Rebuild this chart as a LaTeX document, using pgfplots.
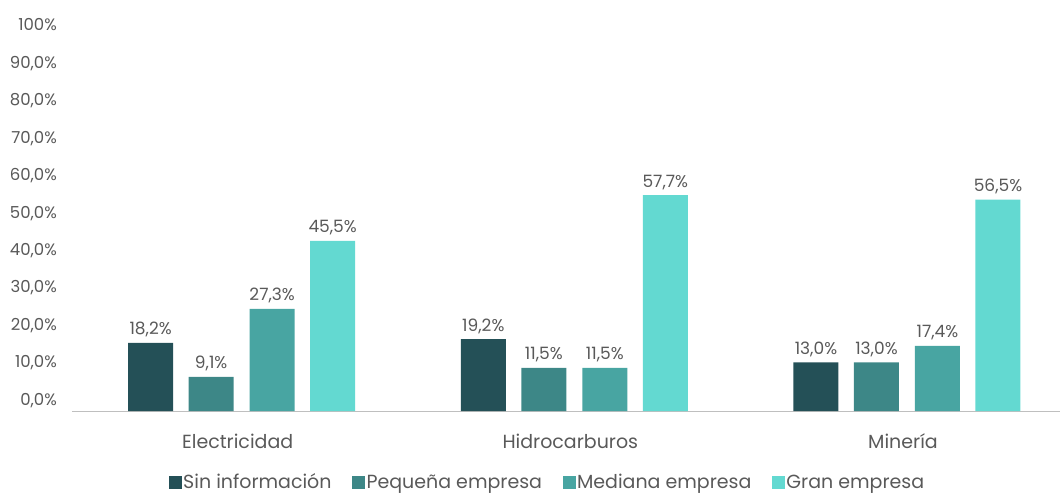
\documentclass[border=0pt]{standalone}
\usepackage{pgfplots}
\pgfplotsset{compat=1.18}
\usepackage{fontspec}
\setmainfont{Poppins}
\definecolor{c1}{HTML}{245057}
\definecolor{c2}{HTML}{3D8787}
\definecolor{c3}{HTML}{48A5A2}
\definecolor{c4}{HTML}{63D9D1}
\definecolor{txt}{HTML}{595959}
\definecolor{axl}{HTML}{BFBFBF}
\begin{document}
\begin{tikzpicture}
\path[use as bounding box] (0pt,0pt) rectangle (1060pt,496pt);
\begin{axis}[
  at={(72pt,85pt)}, anchor=south west,
  scale only axis, width=988pt, height=374pt,
  xmin=-0.51, xmax=2.46, ymin=0, ymax=100,
  axis x line=bottom, axis y line=left,
  x axis line style={draw=axl, line width=1pt, -},
  y axis line style={draw=none},
  major tick length=0pt,
  xtick={0,1,2},
  xticklabels={Electricidad,Hidrocarburos,Minería},
  ytick={0,10,...,100},
  yticklabels={{0,0\%},{10,0\%},{20,0\%},{30,0\%},{40,0\%},{50,0\%},{60,0\%},{70,0\%},{80,0\%},{90,0\%},{100\%}},
  ticklabel style={text=txt, inner sep=0pt},
  yticklabel style={font=\fontsize{16.5}{19}\selectfont, anchor=base east, yshift=6pt, xshift=-15pt},
  xticklabel style={font=\fontsize{19}{22}\selectfont, anchor=base, yshift=-37pt, xshift=-4pt},
  ybar, bar width=45pt,
  nodes near coords={\pgfmathprintnumber[fixed,fixed zerofill,precision=1,use comma,assume math mode=true]{\pgfplotspointmeta}\%},
  every node near coord/.append style={font=\fontsize{17}{20}\selectfont, text=txt, anchor=base, inner sep=0pt, yshift=8pt},
  legend columns=4,
  legend style={at={(0.481,-0.190)}, anchor=center, draw=none, fill=none,
    font=\fontsize{19}{22}\selectfont, text=txt,
    /tikz/every even column/.append style={column sep=19pt},
    nodes={inner sep=1.5pt}},
  legend image code/.code={\fill[#1] (0pt,-6.5pt) rectangle (13pt,6.5pt);},
  clip=false,
]
\addplot[fill=c1, draw=none, bar shift=-91pt] coordinates {(0,18.2) (1,19.2) (2,13.0)};
\addplot[fill=c2, draw=none, bar shift=-30.5pt] coordinates {(0,9.1) (1,11.5) (2,13.0)};
\addplot[fill=c3, draw=none, bar shift=30.5pt] coordinates {(0,27.3) (1,11.5) (2,17.4)};
\addplot[fill=c4, draw=none, bar shift=91pt] coordinates {(0,45.5) (1,57.7) (2,56.5)};
\legend{Sin información,Pequeña empresa,Mediana empresa,Gran empresa}
\end{axis}
\end{tikzpicture}
\end{document}
